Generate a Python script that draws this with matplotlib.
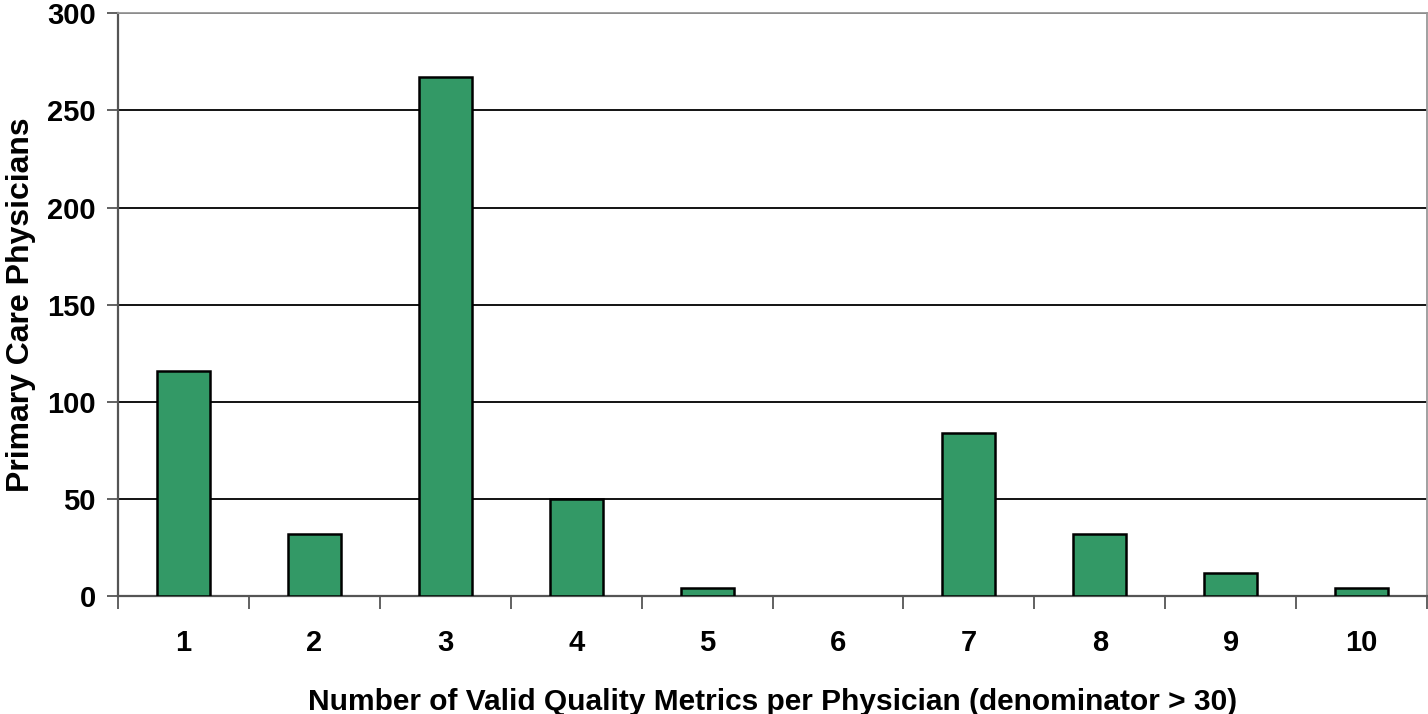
import matplotlib
matplotlib.use("Agg")
import matplotlib.pyplot as plt
import numpy as np

categories = ["1", "2", "3", "4", "5", "6", "7", "8", "9", "10"]
physicians = [116, 32, 267, 50, 4, 0, 84, 32, 12, 4]
y_ticks = [0, 50, 100, 150, 200, 250, 300]

plt.rcParams["font.family"] = ["Liberation Sans", "DejaVu Sans"]
plt.rcParams["font.weight"] = "bold"

fig = plt.figure(figsize=(14.28, 7.14), dpi=100)
ax = fig.add_axes([118 / 1428, 1 - 596 / 714, (1427 - 118) / 1428, (596 - 13.3) / 714])

x = np.arange(len(categories))
# an empty category gets no outline at all
edge_widths = [1.8 if v > 0 else 0 for v in physicians]
ax.bar(x, physicians, width=0.405, color="#339966", edgecolor="black",
       linewidth=edge_widths, zorder=3)

ax.set_xlim(-0.5, len(categories) - 0.5)
ax.set_ylim(0, 300)
ax.set_yticks(y_ticks)
ax.set_yticklabels([str(v) for v in y_ticks], fontsize=21, fontweight="bold")
ax.yaxis.grid(True, color="black", linewidth=1.3, zorder=0)
ax.set_axisbelow(True)

# category labels at the centres, tick marks on the boundaries
ax.set_xticks(x)
ax.set_xticklabels(categories, fontsize=21, fontweight="bold")
ax.tick_params(axis="x", which="major", length=0, pad=24)
ax.set_xticks(np.arange(-0.5, len(categories) + 0.5, 1), minor=True)
ax.tick_params(axis="x", which="minor", length=9, width=1.3, color="#555555",
               direction="out")
ax.tick_params(axis="y", length=8, width=1.3, color="#555555", pad=8)

for side in ["left", "bottom"]:
    ax.spines[side].set_color("#555555")
    ax.spines[side].set_linewidth(1.6)
for side in ["top", "right"]:
    ax.spines[side].set_color("#999999")
    ax.spines[side].set_linewidth(1.3)

ax.set_xlabel("Number of Valid Quality Metrics per Physician (denominator > 30)",
              fontsize=21.5, fontweight="bold", labelpad=22)
ax.set_ylabel("Primary Care Physicians", fontsize=23, fontweight="bold",
              labelpad=8)

fig.savefig("out.png", dpi=100)
